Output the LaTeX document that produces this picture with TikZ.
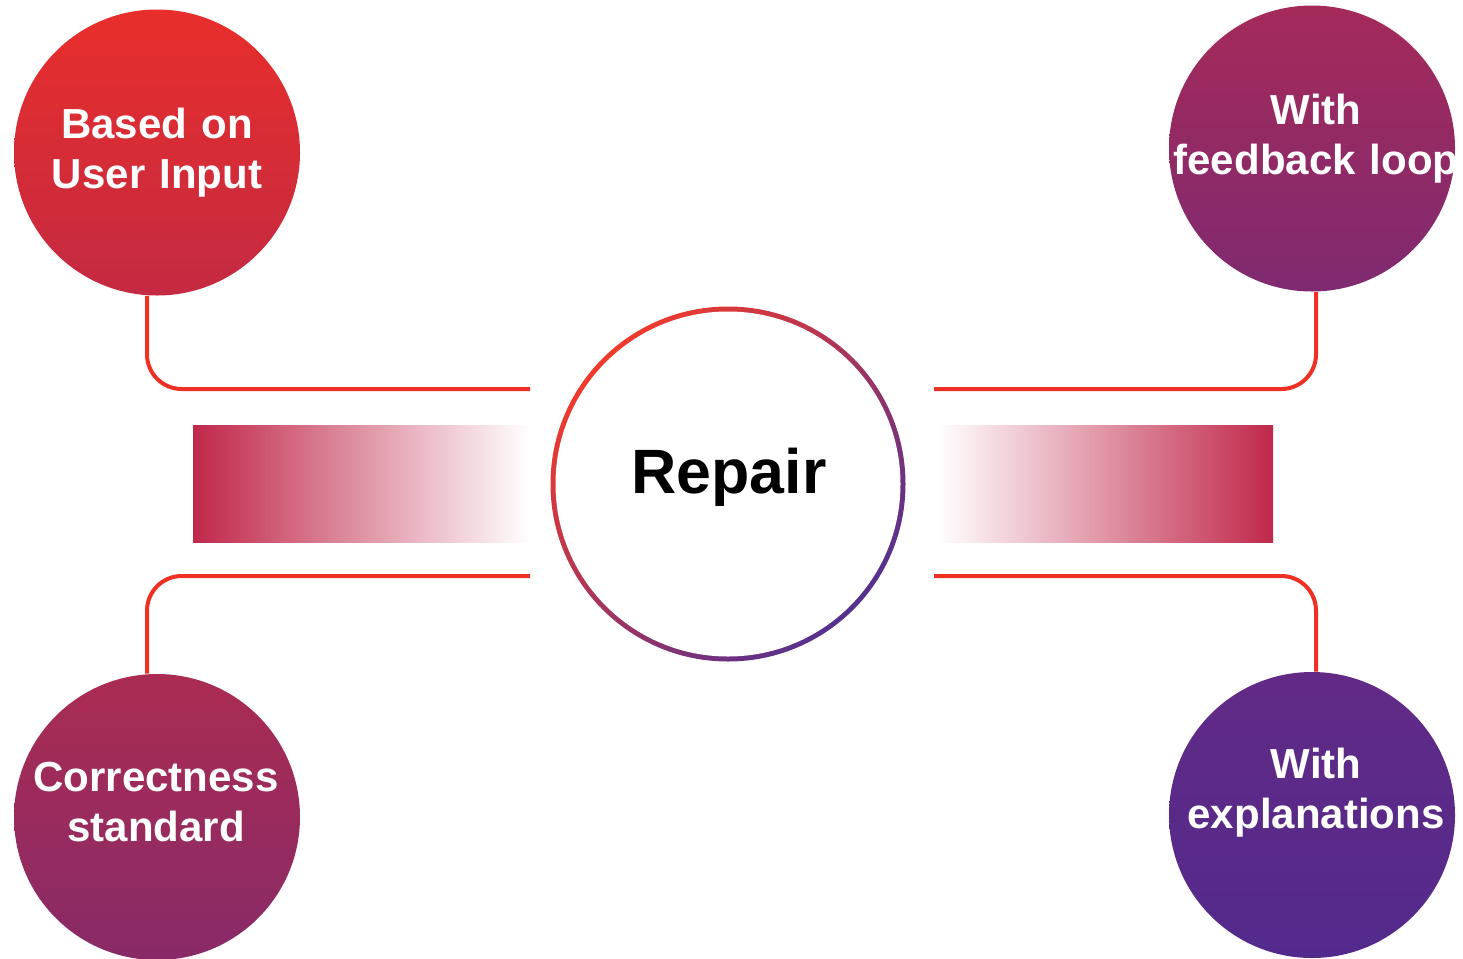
\documentclass[tikz,border=0pt]{standalone}
\usepackage{fontspec}
\setmainfont{Liberation Sans}
\definecolor{lred}{HTML}{EE3124}
\definecolor{tlA}{HTML}{E82E2B}
\definecolor{tlB}{HTML}{C42A42}
\definecolor{trA}{HTML}{A52A5A}
\definecolor{trB}{HTML}{7F2A70}
\definecolor{blA}{HTML}{AA2C52}
\definecolor{blB}{HTML}{882A68}
\definecolor{brA}{HTML}{622A86}
\definecolor{brB}{HTML}{532A8C}
\definecolor{ringA}{HTML}{F03A2C}
\definecolor{ringB}{HTML}{56308F}
\definecolor{barC}{HTML}{C0284A}
\tikzset{
  bubble/.style={circle, minimum size=214.5pt, inner sep=0pt, shading angle=45},
  bubtext/.style={anchor=base, text width=240pt, align=center, text=white,
    font=\bfseries\fontsize{31.5}{38}\selectfont},
  conn/.style={draw=lred, line width=3pt, rounded corners=26pt},
}
\begin{document}
\begin{tikzpicture}[x=0.75pt,y=-0.75pt]
\useasboundingbox (0,0) rectangle (1463,958);
% gradient bars
\shade[left color=barC, right color=white] (193,425) rectangle (530,542);
\shade[left color=white, right color=barC] (938,425) rectangle (1273,542);
% centre ring
\shade[top color=ringA, bottom color=ringB, shading angle=45] (728,484) circle[radius=177.5*0.75pt];
\fill[white] (728,484) circle[radius=172.5*0.75pt];
\node (rep) at (728,484) [circle, minimum size=350*0.75pt, inner sep=0pt] {};
\node (reptext) at (729,493) [anchor=base, font=\bfseries\fontsize{47}{56}\selectfont] {Repair};
% coordinates for connector ends
\coordinate (tlend) at (530,389);
\coordinate (tlknee) at (147,389);
\coordinate (blend) at (530,576);
\coordinate (blknee) at (147,576);
\coordinate (trend) at (934,389);
\coordinate (trknee) at (1316,389);
\coordinate (brend) at (934,576);
\coordinate (brknee) at (1316,576);
% outer circles
\node (tl) at (157,152.5) [bubble, top color=tlA, bottom color=tlB] {};
\node (tr) at (1312,148.5) [bubble, top color=trA, bottom color=trB] {};
\node (bl) at (157,817) [bubble, top color=blA, bottom color=blB] {};
\node (br) at (1312,815) [bubble, top color=brA, bottom color=brB] {};
% connectors
\draw[conn] (tlend) -- (tlknee) -- (tlknee |- tl.south);
\draw[conn] (blend) -- (blknee) -- (blknee |- bl.north);
\draw[conn] (trend) -- (trknee) -- (trknee |- tr.south);
\draw[conn] (brend) -- (brknee) -- (brknee |- br.north);
% labels
\node (tltext) at (157,138) [bubtext] {Based on\\User Input};
\node (trtext) at (1316,124) [bubtext] {With\\feedback loop};
\node (bltext) at (156,791) [bubtext] {Correctness\\standard};
\node (brtext) at (1316,778) [bubtext] {With\\explanations};
\end{tikzpicture}
\end{document}
